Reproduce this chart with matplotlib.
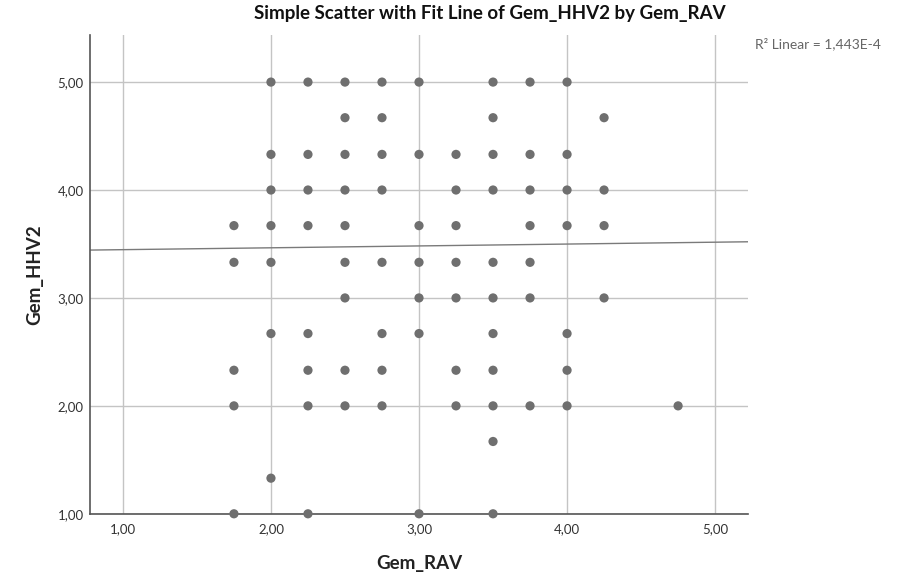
import matplotlib
matplotlib.use('Agg')
from matplotlib import pyplot as plt
import numpy as np

plt.rcParams['font.family'] = ['Lato', 'DejaVu Sans']

# Gem_RAV values, one column of points per value
rav_1_75 = [3.67, 3.33, 2.33, 2.00, 1.00]
rav_2_00 = [5.00, 4.33, 4.00, 3.67, 3.33, 2.67, 1.33]
rav_2_25 = [5.00, 4.33, 4.00, 3.67, 2.67, 2.33, 2.00, 1.00]
rav_2_50 = [5.00, 4.67, 4.33, 4.00, 3.67, 3.33, 3.00, 2.33, 2.00]
rav_2_75 = [5.00, 4.67, 4.33, 4.00, 3.33, 2.67, 2.33, 2.00]
rav_3_00 = [5.00, 4.33, 3.67, 3.33, 3.00, 2.67, 1.00]
rav_3_25 = [4.33, 4.00, 3.67, 3.33, 3.00, 2.33, 2.00]
rav_3_50 = [5.00, 4.67, 4.33, 4.00, 3.33, 3.00, 2.67, 2.33, 2.00, 1.67, 1.00]
rav_3_75 = [5.00, 4.33, 4.00, 3.67, 3.33, 3.00, 2.00]
rav_4_00 = [5.00, 4.33, 4.00, 3.67, 2.67, 2.33, 2.00]
rav_4_25 = [4.67, 4.00, 3.67, 3.00]
rav_4_75 = [2.00]

columns = {
    1.75: rav_1_75, 2.00: rav_2_00, 2.25: rav_2_25, 2.50: rav_2_50,
    2.75: rav_2_75, 3.00: rav_3_00, 3.25: rav_3_25, 3.50: rav_3_50,
    3.75: rav_3_75, 4.00: rav_4_00, 4.25: rav_4_25, 4.75: rav_4_75,
}

# fit line
fit_intercept = 3.430
fit_slope = 0.0173

ticks = [1, 2, 3, 4, 5]
tick_labels = ['1,00', '2,00', '3,00', '4,00', '5,00']

x = []
y = []
for k, vals in columns.items():
    for v in vals:
        x.append(k)
        y.append(v)

fig = plt.figure(figsize=(8.99, 5.76), dpi=100)
ax = fig.add_axes([0.100, 0.108, 0.732, 0.831])

xmin, xmax = 0.777, 5.222
ymin, ymax = 1.0, 5.435

for t in ticks:
    ax.axvline(t, color='#c4c4c4', lw=1, zorder=0)
    ax.axhline(t, color='#c4c4c4', lw=1, zorder=0)

ax.scatter(x, y, s=44, color='#6f6f6f', edgecolors='none', zorder=3, clip_on=False)

xs = np.array([xmin, xmax])
ax.plot(xs, fit_intercept + fit_slope * xs, color='#7a7a7a', lw=1, zorder=2)

ax.set_xlim(xmin, xmax)
ax.set_ylim(ymin, ymax)
ax.set_xticks(ticks)
ax.set_xticklabels(tick_labels)
ax.set_yticks(ticks)
ax.set_yticklabels(tick_labels)
ax.tick_params(length=0, labelsize=9.5, colors='#333333')
ax.tick_params(axis='x', pad=7)
ax.tick_params(axis='y', pad=4.5)

for s in ['top', 'right']:
    ax.spines[s].set_visible(False)
for s in ['left', 'bottom']:
    ax.spines[s].set_color('#555555')
    ax.spines[s].set_linewidth(1.2)

ax.set_xlabel('Gem_RAV', fontsize=13.5, fontweight='bold', color='#222222', labelpad=14)
ax.set_ylabel('Gem_HHV2', fontsize=13.5, fontweight='bold', color='#222222', labelpad=10)

fig.text(490 / 899, 1 - 14 / 576, 'Simple Scatter with Fit Line of Gem_HHV2 by Gem_RAV',
         ha='center', va='center', fontsize=13.5, fontweight='bold', color='#111111')
fig.text(755 / 899, 1 - 44 / 576, 'R² Linear = 1,443E-4',
         ha='left', va='center', fontsize=10, color='#666666')

fig.savefig('out.png', dpi=100)
